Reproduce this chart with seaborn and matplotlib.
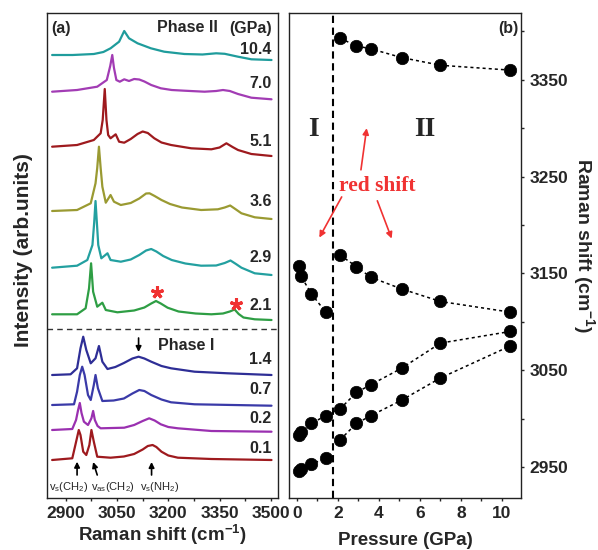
import matplotlib
matplotlib.use("Agg")
import matplotlib.pyplot as plt
import seaborn as sns

sns.set_style("ticks")
plt.rcParams["font.family"] = ["Liberation Sans", "DejaVu Sans"]
plt.rcParams["font.weight"] = "bold"
plt.rcParams["mathtext.default"] = "regular"

# ---------------- Panel (a): Raman spectra (offset, arb. units) ----------------
raman_x_104 = [2860, 2920, 2982, 3010, 3031, 3056, 3071, 3085, 3110, 3149, 3188, 3247, 3300, 3340, 3365, 3404, 3443, 3502]
raman_y_104 = [443, 443, 444, 446, 449.7, 456.3, 467, 459.7, 454.7, 449.7, 446.3, 444, 443.5, 444.7, 444.2, 441.3, 438.7, 438]

raman_x_70 = [2860, 2933, 2992, 3020, 3030, 3036, 3041, 3048, 3058, 3071, 3085, 3100, 3115, 3130, 3150, 3178, 3210, 3247,
              3306, 3340, 3360, 3380, 3404, 3443, 3502]
raman_y_70 = [406.3, 408, 411.3, 418, 432, 443, 430, 418, 416.3, 418.7, 417, 419, 418.5, 416.5, 413, 409.7, 408, 407.3,
              406.3, 407, 408, 407, 404, 400.3, 398.7]

raman_x_51 = [2860, 2933, 2982, 3002, 3008, 3014, 3019, 3024, 3031, 3046, 3056, 3071, 3090, 3110, 3125, 3140, 3159, 3180,
              3208, 3267, 3326, 3350, 3370, 3388, 3404, 3443, 3502]
raman_y_51 = [351.3, 353, 358, 364.7, 378, 409, 378, 363, 359.7, 363.7, 356.3, 355.3, 359, 364, 366.5, 365, 359.7, 355.5,
              353, 349.7, 348.7, 350.5, 354.7, 351, 348, 344, 342]

raman_x_36 = [2860, 2933, 2973, 2987, 2992, 2997, 3002, 3007, 3017, 3031, 3041, 3061, 3090, 3115, 3135, 3145, 3160, 3180,
              3205, 3240, 3296, 3345, 3365, 3381, 3396, 3414, 3453, 3502]
raman_y_36 = [287, 288, 294.7, 314.7, 330, 351.3, 330, 311.3, 295.3, 303, 296.3, 293, 295, 299.5, 304.5, 304.7, 302, 298,
              294, 290.5, 288, 288.7, 290.5, 292.5, 289, 284.7, 280.7, 279]

raman_x_29 = [2860, 2933, 2963, 2978, 2983, 2987, 2991, 2995, 3004, 3022, 3031, 3061, 3090, 3115, 3135, 3150, 3165, 3185,
              3210, 3250, 3296, 3340, 3365, 3382, 3398, 3414, 3453, 3502]
raman_y_29 = [230.3, 232.3, 238, 253, 275, 297, 275, 253, 239.7, 244.7, 238, 236.3, 238.5, 243, 247.5, 249, 246.5, 242,
              238, 234.5, 232.3, 232.5, 235, 237.5, 234, 230.3, 224.7, 223]

raman_x_21 = [2860, 2933, 2958, 2968, 2974, 2980, 2992, 3007, 3017, 3051, 3100, 3130, 3150, 3164, 3178, 3198, 3230, 3280,
              3326, 3360, 3380, 3394, 3406, 3420, 3453, 3502]
raman_y_21 = [183.7, 183.7, 189.7, 209.7, 234.7, 206.3, 191.3, 195.3, 188, 185.7, 187.5, 190.5, 194.5, 197, 194.5, 190.3,
              186.5, 184.5, 183.7, 184.5, 186.5, 188.5, 184, 180.5, 178.7, 178]

raman_x_14 = [2860, 2914, 2933, 2943, 2951, 2960, 2973, 2987, 2997, 3007, 3022, 3045, 3070, 3095, 3113, 3130, 3150, 3180,
              3208, 3277, 3374, 3502]
raman_y_14 = [123, 123.7, 129.7, 149.7, 161.3, 148, 134.7, 139.7, 152, 136.3, 129, 131, 135, 139.5, 141.3, 139.5, 136.3, 132,
              129.7, 126.3, 124.7, 123]

raman_x_07 = [2860, 2924, 2933, 2941, 2948, 2955, 2965, 2973, 2982, 2987, 2994, 3007, 3040, 3070, 3095, 3115, 3130, 3150,
              3180, 3208, 3277, 3502]
raman_y_07 = [93, 93.7, 106.3, 123, 131.3, 123, 103, 98, 113, 123, 109.7, 97, 97.5, 99.5, 104.5, 108, 107, 103,
              98.5, 95.7, 93.7, 92.3]

raman_x_02 = [2860, 2919, 2930, 2936, 2941, 2946, 2953, 2965, 2975, 2980, 2985, 2993, 3002, 3071, 3100, 3125, 3144, 3160,
              3178, 3200, 3228, 3326, 3502]
raman_y_02 = [68, 69, 78, 88, 95, 85, 76.3, 73, 79.7, 87, 78, 72, 69.7, 70.3, 73, 77, 79.7, 77.5,
              73.7, 71, 69.7, 67, 66.3]

raman_x_01 = [2860, 2919, 2928, 2938, 2943, 2951, 2960, 2969, 2975, 2982, 2992, 3031, 3070, 3100, 3125, 3140, 3154, 3165,
              3180, 3200, 3228, 3326, 3502]
raman_y_01 = [38, 39.7, 53, 68, 63, 46.3, 43, 53, 68, 56.3, 41.3, 40.3, 41.5, 44, 48.5, 52, 53, 51,
              46.3, 42.5, 40.3, 39, 38]

spectra_x = [raman_x_104, raman_x_70, raman_x_51, raman_x_36, raman_x_29, raman_x_21,
             raman_x_14, raman_x_07, raman_x_02, raman_x_01]
spectra_y = [raman_y_104, raman_y_70, raman_y_51, raman_y_36, raman_y_29, raman_y_21,
             raman_y_14, raman_y_07, raman_y_02, raman_y_01]
spectra_labels = ["10.4", "7.0", "5.1", "3.6", "2.9", "2.1", "1.4", "0.7", "0.2", "0.1"]
spectra_label_y = [448, 414.7, 356.3, 296.3, 240.3, 192, 138, 108, 79.7, 49.7]
spectra_colors = ["#1f9c9c", "#a23cb4", "#9e1a1e", "#9a9a32", "#23a0a0", "#2e9e44",
                  "#2e2e96", "#3a3aa8", "#9a30b0", "#9e1a1e"]

# ---------------- Panel (b): peak positions vs pressure ----------------
pressure_I = [0.1, 0.2, 0.7, 1.4]
pressure_II = [2.1, 2.9, 3.6, 5.1, 7.0, 10.4]
shift_I_upper = [3158, 3147, 3129, 3110]
shift_I_a = [2983, 2986, 2995, 3003]
shift_I_b = [2946, 2948, 2953, 2959]
shift_II_top = [3393, 3385, 3382, 3373, 3365, 3360]
shift_II_mid = [3169, 3157, 3146, 3134, 3121, 3110]
shift_II_a = [3010, 3027, 3035, 3052, 3078, 3090]
shift_II_b = [2978, 2995, 3003, 3019, 3042, 3075]
phase_boundary = 1.77

fig = plt.figure(figsize=(5.98, 5.5), dpi=100)
axL = fig.add_axes([47 / 598, 52 / 550, 231 / 598, 485 / 550])
axR = fig.add_axes([289 / 598, 52 / 550, 232 / 598, 485 / 550])

for xs, ys, c in zip(spectra_x, spectra_y, spectra_colors):
    sns.lineplot(x=xs, y=ys, ax=axL, color=c, lw=1.6, sort=False, estimator=None)
for lab, yv in zip(spectra_labels, spectra_label_y):
    axL.text(3503, yv, lab, ha="right", va="center", fontsize=11.5, fontweight="bold")

axL.set_xlim(2845, 3521)
axL.set_ylim(0, 485)
axL.set_xticks([2900, 3050, 3200, 3350, 3500])
axL.set_xticks([2975, 3125, 3275, 3425], minor=True)
axL.set_yticks([])
axL.tick_params(axis="x", which="both", direction="out", length=2.5, width=1, labelsize=12.5, pad=3.5)
axL.set_xlabel("")
axL.set_ylabel("")

axL.axhline(169, color="#333333", lw=1.0, ls=(0, (4, 3)))
axL.text(2856, 470, "(a)", ha="left", va="center", fontsize=11.5, fontweight="bold")
axL.text(3256, 470, "Phase II", ha="center", va="center", fontsize=11.5, fontweight="bold")
axL.text(3441, 470, "(GPa)", ha="center", va="center", fontsize=11.5, fontweight="bold")
axL.text(3252, 153, "Phase I", ha="center", va="center", fontsize=11.5, fontweight="bold")

arrow_k = dict(arrowstyle="-|>", color="k", lw=1.2, mutation_scale=8, shrinkA=0, shrinkB=0)
axL.annotate("", xy=(3113, 146), xytext=(3113, 160), arrowprops=arrow_k)
axL.annotate("", xy=(2933, 36.3), xytext=(2933, 23), arrowprops=arrow_k)
axL.annotate("", xy=(2980, 36), xytext=(2992, 23), arrowprops=arrow_k)
axL.annotate("", xy=(3151, 36), xytext=(3151, 23), arrowprops=arrow_k)
axL.text(2909, 11.3, r"v$_{s}$(CH$_{2}$)", ha="center", va="center", fontsize=8, fontweight="normal")
axL.text(3038, 11.3, r"v$_{as}$(CH$_{2}$)", ha="center", va="center", fontsize=8, fontweight="normal")
axL.text(3174, 11.3, r"v$_{s}$(NH$_{2}$)", ha="center", va="center", fontsize=8, fontweight="normal")
axL.plot([3167, 3397], [206.3, 194], ls="none", marker=(5, 2, 0), ms=9, mew=2.2, color="#f03232")

# Panel (b)
line_kw = dict(color="k", lw=1.1, linestyle=(0, (2, 2)), sort=False, estimator=None)
sns.lineplot(x=pressure_I, y=shift_I_upper, ax=axR, **line_kw)
sns.lineplot(x=pressure_I, y=shift_I_b, ax=axR, **line_kw)
sns.lineplot(x=pressure_I + pressure_II, y=shift_I_a + shift_II_a, ax=axR, **line_kw)
sns.lineplot(x=pressure_II, y=shift_II_top, ax=axR, **line_kw)
sns.lineplot(x=pressure_II, y=shift_II_mid, ax=axR, **line_kw)
sns.lineplot(x=pressure_II, y=shift_II_b, ax=axR, **line_kw)
for ys in [shift_I_upper, shift_I_a, shift_I_b]:
    sns.scatterplot(x=pressure_I, y=ys, ax=axR, color="k", s=80, edgecolor="k", linewidth=0.5, zorder=3)
for ys in [shift_II_top, shift_II_mid, shift_II_a, shift_II_b]:
    sns.scatterplot(x=pressure_II, y=ys, ax=axR, color="k", s=80, edgecolor="k", linewidth=0.5, zorder=3)

axR.axvline(phase_boundary, color="k", lw=1.5, ls=(0, (3.5, 2.2)))
axR.set_xlim(-0.39, 10.93)
axR.set_ylim(2918, 3419)
axR.set_xticks([0, 2, 4, 6, 8, 10])
axR.set_xticks([1, 3, 5, 7, 9], minor=True)
axR.set_yticks([2950, 3050, 3150, 3250, 3350])
axR.set_yticks([3000, 3100, 3200, 3300, 3400], minor=True)
axR.yaxis.tick_right()
axR.tick_params(axis="both", which="both", direction="out", length=2.5, width=1, labelsize=12.5, pad=3.5)
axR.tick_params(axis="y", which="both", left=False, right=True)
axR.set_xlabel("")
axR.set_ylabel("")

axR.text(0.99, 0.969, "(b)", transform=axR.transAxes, ha="right", va="center", fontsize=11.5, fontweight="bold")
axR.text(0.8, 3299, "I", ha="center", va="center", fontsize=20, fontweight="bold",
         family=["Liberation Serif", "DejaVu Serif"])
axR.text(6.24, 3299, "II", ha="center", va="center", fontsize=20, fontweight="bold",
         family=["Liberation Serif", "DejaVu Serif"])
axR.text(3.92, 3240, "red shift", ha="center", va="center", fontsize=15.5, fontweight="bold",
         color="#f03232", family=["Liberation Serif", "DejaVu Serif"])
arrow_r = dict(arrowstyle="-|>", color="#f03232", lw=1.2, mutation_scale=9, shrinkA=0, shrinkB=0)
axR.annotate("", xy=(3.4, 3300), xytext=(3.12, 3257), arrowprops=arrow_r)
axR.annotate("", xy=(1.09, 3187), xytext=(2.18, 3229), arrowprops=arrow_r)
axR.annotate("", xy=(4.62, 3186), xytext=(3.92, 3225), arrowprops=arrow_r)

for ax in (axL, axR):
    for sp in ax.spines.values():
        sp.set_linewidth(1.0)
        sp.set_color("#222222")

fig.text(162 / 598, 1 - 541 / 550, "Raman shift (cm$^{-1}$)", ha="center", va="baseline",
         fontsize=13.5, fontweight="bold")
fig.text(405 / 598, 1 - 545 / 550, "Pressure (GPa)", ha="center", va="baseline",
         fontsize=13.5, fontweight="bold")
fig.text(24 / 598, 1 - 250 / 550, "Intensity (arb.units)", ha="center", va="center",
         rotation=90, fontsize=15, fontweight="bold")
fig.text(584 / 598, 1 - 246 / 550, "Raman shift (cm$^{-1}$)", ha="center", va="center",
         rotation=270, fontsize=14, fontweight="bold")

fig.savefig("out.png", dpi=100)
